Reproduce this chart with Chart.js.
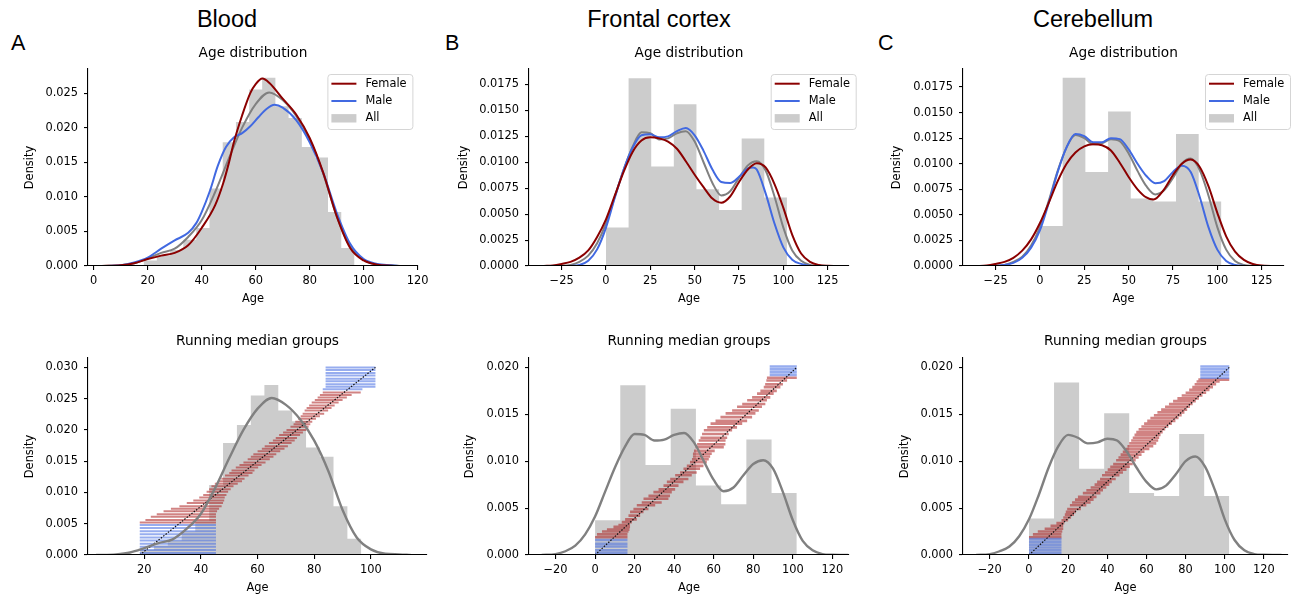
<!DOCTYPE html>
<html>
<head>
<meta charset="utf-8">
<script src="https://cdn.jsdelivr.net/npm/chart.js@4.4.1/dist/chart.umd.min.js"></script>
<style>
  body { margin: 0; background: #fff; width: 1298px; height: 598px; position: relative; overflow: hidden; }
  canvas { position: absolute; }
  .sup { position: absolute; font-family: "Liberation Sans", Arial, sans-serif; font-size: 23.5px; line-height: 1; transform: translateX(-50%); white-space: nowrap; color: #000; }
  .letter { position: absolute; font-family: "Liberation Sans", Arial, sans-serif; font-size: 21.5px; line-height: 1; color: #000; }
</style>
</head>
<body>
<div class="sup" style="left:227px;top:8px">Blood</div>
<div class="sup" style="left:659px;top:8px">Frontal cortex</div>
<div class="sup" style="left:1093px;top:8px">Cerebellum</div>
<div class="letter" style="left:11px;top:33px">A</div>
<div class="letter" style="left:445px;top:33px">B</div>
<div class="letter" style="left:878px;top:33px">C</div>

<canvas id="bloodTop" width="425" height="272" style="left:13px;top:39px"></canvas>
<canvas id="frontalTop" width="415" height="272" style="left:454px;top:39px"></canvas>
<canvas id="cerebTop" width="416" height="272" style="left:888px;top:39px"></canvas>
<canvas id="bloodBottom" width="434" height="272" style="left:13px;top:328px"></canvas>
<canvas id="frontalBottom" width="415" height="272" style="left:454px;top:328px"></canvas>
<canvas id="cerebBottom" width="420" height="272" style="left:888px;top:328px"></canvas>

<script>
// ---- tick labels ----
const bloodTopXTicks = [0, 20, 40, 60, 80, 100, 120];
const bloodBottomXTicks = [20, 40, 60, 80, 100];
const brainTopXTicks = [-25, 0, 25, 50, 75, 100, 125];
const brainBottomXTicks = [-20, 0, 20, 40, 60, 80, 100, 120];
const bloodTopYTicks = [0, 0.005, 0.010, 0.015, 0.020, 0.025];
const bloodBottomYTicks = [0, 0.005, 0.010, 0.015, 0.020, 0.025, 0.030];
const brainTopYTicks = [0, 0.0025, 0.0050, 0.0075, 0.0100, 0.0125, 0.0150, 0.0175];
const brainBottomYTicks = [0, 0.005, 0.010, 0.015, 0.020];

// ---- Blood ----
const bloodEdges = [18.5, 23.4, 28.3, 33.2, 38.0, 42.9, 47.8, 52.7, 57.6, 62.4, 67.3, 72.2, 77.1, 82.0, 86.8, 91.7, 96.6];
const bloodHeights = [0.0008, 0.0015, 0.0023, 0.0038, 0.0055, 0.0112, 0.0179, 0.0208, 0.0255, 0.0272, 0.0231, 0.0214, 0.0172, 0.0157, 0.0078, 0.0026];

const bloodFemaleX = [3, 10, 15, 20, 25, 30, 35, 40, 45, 48, 50, 52, 55, 58, 60, 62.5, 65, 70, 75, 80, 85, 90, 95, 100, 105, 110, 115];
const bloodFemaleY = [0, 0.0001, 0.0004, 0.0010, 0.0015, 0.0019, 0.0030, 0.0055, 0.0088, 0.0120, 0.0148, 0.0180, 0.0218, 0.0250, 0.0263, 0.0271, 0.0265, 0.0242, 0.0219, 0.0185, 0.0135, 0.0072, 0.0026, 0.0008, 0.0002, 0.00005, 0];
const bloodMaleX = [3, 10, 15, 20, 25, 30, 35, 38, 40, 43, 46, 49, 52, 55, 58, 61, 64, 67, 70, 75, 80, 85, 90, 95, 100, 105, 110, 113];
const bloodMaleY = [0, 0.0001, 0.0005, 0.0012, 0.0025, 0.0037, 0.0048, 0.0062, 0.0078, 0.0108, 0.0145, 0.0172, 0.0186, 0.0192, 0.0202, 0.0215, 0.0227, 0.0233, 0.0229, 0.0211, 0.0179, 0.0135, 0.0077, 0.0032, 0.0010, 0.0003, 0.0001, 0];
const bloodAllX = [3, 10, 15, 20, 25, 30, 35, 40, 45, 50, 55, 60, 65, 70, 75, 80, 85, 90, 95, 100, 105, 110, 114];
const bloodAllY = [0, 0.0001, 0.0004, 0.0011, 0.0019, 0.0025, 0.0042, 0.0066, 0.0107, 0.0155, 0.0200, 0.0234, 0.0251, 0.0240, 0.0217, 0.0183, 0.0134, 0.0072, 0.0028, 0.0009, 0.0002, 0.0001, 0];

const bloodRedY = [0.0052, 0.0056, 0.0061, 0.0065, 0.0070, 0.0074, 0.0078, 0.0083, 0.0087, 0.0092, 0.0096, 0.0101, 0.0105, 0.0110, 0.0114, 0.0118, 0.0122, 0.0127, 0.0131, 0.0135, 0.0140, 0.0144, 0.0148, 0.0153, 0.0157, 0.0161, 0.0166, 0.0170, 0.0174, 0.0179, 0.0183, 0.0187, 0.0192, 0.0196, 0.0200, 0.0205, 0.0209, 0.0213, 0.0218, 0.0222, 0.0226, 0.0231, 0.0235, 0.0239, 0.0244, 0.0248, 0.0252, 0.0256, 0.0260];
const bloodRedFrom = [18.4, 20.4, 22.3, 24.4, 26.8, 29.4, 32.4, 35, 37.3, 39.4, 40.8, 42, 42.9, 43.7, 44.9, 46.1, 47.2, 48.5, 50, 50.8, 52.3, 53.6, 55, 56.5, 57.6, 58.5, 60, 61.5, 62.5, 64, 65.4, 66.4, 67.6, 69, 70.2, 71.6, 72.7, 73.3, 74.3, 75.2, 75.9, 76.6, 77.3, 78.2, 79.1, 80.2, 81.2, 82, 83];
const bloodRedTo = [45.3, 45.3, 45.3, 45.3, 45.7, 46.4, 47.3, 47.8, 48.2, 48.4, 49, 49.6, 50.5, 51.5, 53, 54.5, 55.4, 56.8, 58.2, 58.9, 60.2, 61.4, 62.8, 64.3, 65.6, 66.6, 68, 69.5, 70.7, 72, 73.1, 73.9, 75, 76, 77.2, 78, 78.6, 79.3, 80.6, 82, 83.5, 84.9, 86.1, 87.2, 88.6, 90, 91.5, 93.2, 96.4];
const bloodBlueY = [0.0003, 0.0008, 0.0013, 0.0018, 0.0023, 0.0028, 0.0033, 0.0038, 0.0043, 0.0048, 0.0265, 0.0269, 0.0273, 0.0278, 0.0282, 0.0287, 0.0291, 0.0296, 0.0300];
const bloodBlueFrom = [18.4, 18.4, 18.4, 18.4, 18.4, 18.4, 18.4, 18.4, 18.4, 18.4, 83, 84, 84, 84, 84, 84, 84, 84, 84];
const bloodBlueTo = [45.3, 45.3, 45.3, 45.3, 45.3, 45.3, 45.3, 45.3, 45.3, 45.3, 97, 101.6, 101.6, 101.6, 101.6, 101.6, 101.6, 101.6, 101.6];
const bloodDiagX = [18.4, 101.6];
const bloodDiagY = [0, 0.0300];

// ---- Frontal cortex ----
const frontalEdges = [0, 12.75, 25.5, 38.25, 51, 63.75, 76.5, 89.25, 102];
const frontalHeights = [0.0037, 0.0181, 0.0096, 0.0156, 0.0074, 0.0054, 0.0123, 0.0066];

const frontalFemaleX = [-35, -30, -25, -20, -15, -10, -5, 0, 5, 10, 15, 20, 25, 30, 35, 40, 45, 50, 55, 60, 65, 70, 75, 80, 85, 90, 95, 100, 105, 110, 115, 120, 125, 137];
const frontalFemaleY = [0, 0.00005, 0.0002, 0.0004, 0.0008, 0.0015, 0.0028, 0.0045, 0.0068, 0.0091, 0.0110, 0.0121, 0.0124, 0.0123, 0.0120, 0.0113, 0.0101, 0.0088, 0.0076, 0.0065, 0.0061, 0.0067, 0.0081, 0.0093, 0.0099, 0.0095, 0.0079, 0.0056, 0.0030, 0.0012, 0.0004, 0.0001, 0.00003, 0];
const frontalMaleX = [-20, -15, -10, -5, 0, 5, 10, 15, 20, 25, 30, 35, 40, 45, 50, 55, 60, 65, 70, 75, 80, 83, 85, 90, 95, 100, 105, 110, 116];
const frontalMaleY = [0, 0.0001, 0.0005, 0.0016, 0.0037, 0.0066, 0.0093, 0.0114, 0.0126, 0.0127, 0.0124, 0.0125, 0.0130, 0.0133, 0.0126, 0.0111, 0.0093, 0.0081, 0.0080, 0.0086, 0.0094, 0.0095, 0.0093, 0.0070, 0.0041, 0.0018, 0.0006, 0.0002, 0];
const frontalAllX = [-27, -20, -15, -10, -5, 0, 5, 10, 15, 20, 25, 30, 35, 40, 45, 50, 55, 60, 65, 70, 75, 80, 85, 90, 95, 100, 105, 110, 115, 120, 128];
const frontalAllY = [0, 0.0001, 0.0004, 0.0010, 0.0022, 0.0041, 0.0067, 0.0093, 0.0115, 0.0129, 0.0128, 0.0122, 0.0123, 0.0128, 0.0130, 0.0120, 0.0100, 0.0080, 0.0068, 0.0072, 0.0085, 0.0097, 0.0101, 0.0092, 0.0067, 0.0037, 0.0015, 0.0005, 0.0001, 0.00002, 0];

const frontalRedY = [0.0019, 0.0022, 0.0025, 0.0027, 0.0030, 0.0032, 0.0035, 0.0038, 0.0042, 0.0046, 0.0049, 0.0053, 0.0056, 0.0060, 0.0063, 0.0067, 0.0070, 0.0074, 0.0078, 0.0081, 0.0085, 0.0088, 0.0092, 0.0095, 0.0099, 0.0102, 0.0105, 0.0108, 0.0111, 0.0115, 0.0118, 0.0122, 0.0125, 0.0129, 0.0133, 0.0136, 0.0140, 0.0143, 0.0147, 0.0151, 0.0154, 0.0158, 0.0161, 0.0165, 0.0168, 0.0172, 0.0175, 0.0179, 0.0182, 0.0186, 0.0189];
const frontalRedFrom = [0, 1, 3.5, 6, 9.3, 11.8, 13.5, 15.2, 16.9, 17.7, 19.4, 21.1, 23.6, 24.5, 27, 29.5, 32.1, 34.6, 36.3, 38, 40.5, 43, 44.7, 46.4, 48, 49, 49.5, 49.5, 50, 50.8, 51.6, 52.4, 53.3, 54.1, 55, 56.7, 58.4, 60.9, 63.4, 66, 69.3, 71.8, 74.4, 76.9, 79.4, 81.9, 83.6, 85.3, 86, 86.6, 86.9];
const frontalRedTo = [16.4, 16.4, 16.9, 17.4, 17.7, 17.7, 18.6, 21.1, 22.8, 24.5, 27, 30.4, 33.7, 37.1, 37.9, 38.8, 40.5, 42.2, 44.7, 47.2, 48.9, 51.4, 53.1, 54.8, 56.5, 57.5, 58.2, 59, 60.5, 65.1, 65.9, 66, 66.8, 67.6, 69.3, 71.8, 74.4, 76.9, 79.4, 81.1, 82.8, 84.4, 86.1, 86.9, 88.6, 90.3, 91.9, 93.7, 95, 97.1, 102];
const frontalBlueY = [0.0002, 0.0005, 0.0009, 0.0012, 0.0016, 0.0192, 0.0195, 0.0198, 0.0201];
const frontalBlueFrom = [0, 0, 0, 0, 0, 88.3, 88.3, 88.3, 88.3];
const frontalBlueTo = [16.4, 16.4, 16.4, 16.4, 16.4, 102, 102, 102, 102];
const frontalDiagX = [0, 102];
const frontalDiagY = [0, 0.0200];

// ---- Cerebellum ----
const cerebEdges = [0, 12.8, 25.6, 38.4, 51.2, 63.9, 76.7, 89.5, 102.3];
const cerebHeights = [0.0039, 0.0184, 0.0092, 0.0151, 0.0066, 0.0063, 0.0129, 0.0063];

const cerebFemaleX = [-36, -30, -25, -20, -15, -10, -5, 0, 5, 10, 15, 20, 25, 30, 35, 40, 45, 50, 55, 60, 64, 70, 75, 80, 85, 90, 95, 100, 105, 110, 115, 120, 125, 136];
const cerebFemaleY = [0, 0.00005, 0.0002, 0.0004, 0.0008, 0.0015, 0.0026, 0.0042, 0.0062, 0.0083, 0.0100, 0.0111, 0.0117, 0.0119, 0.0118, 0.0113, 0.0101, 0.0087, 0.0075, 0.0067, 0.0065, 0.0075, 0.0089, 0.0100, 0.0104, 0.0097, 0.0078, 0.0052, 0.0029, 0.0014, 0.0006, 0.0002, 0.00005, 0];
const cerebMaleX = [-26, -20, -15, -10, -5, 0, 5, 10, 15, 20, 25, 30, 35, 40, 45, 50, 55, 60, 65, 70, 75, 80, 85, 90, 95, 100, 105, 110, 116];
const cerebMaleY = [0, 0.0001, 0.0003, 0.0008, 0.0018, 0.0035, 0.0062, 0.0092, 0.0116, 0.0129, 0.0127, 0.0121, 0.0121, 0.0125, 0.0124, 0.0114, 0.0100, 0.0088, 0.0081, 0.0083, 0.0092, 0.0098, 0.0092, 0.0068, 0.0038, 0.0016, 0.0005, 0.0001, 0];
const cerebAllX = [-27, -20, -15, -10, -5, 0, 5, 10, 15, 20, 25, 30, 35, 40, 45, 50, 55, 60, 65, 70, 75, 80, 85, 90, 95, 100, 105, 110, 115, 120, 129];
const cerebAllY = [0, 0.0001, 0.0004, 0.0009, 0.0020, 0.0038, 0.0064, 0.0093, 0.0116, 0.0128, 0.0125, 0.0119, 0.0120, 0.0124, 0.0122, 0.0110, 0.0093, 0.0078, 0.0070, 0.0074, 0.0086, 0.0100, 0.0105, 0.0094, 0.0069, 0.0038, 0.0016, 0.0005, 0.0001, 0.00002, 0];

const cerebRedY = [0.0019, 0.0022, 0.0025, 0.0028, 0.0031, 0.0034, 0.0037, 0.0040, 0.0043, 0.0046, 0.0049, 0.0053, 0.0056, 0.0059, 0.0062, 0.0066, 0.0069, 0.0072, 0.0075, 0.0078, 0.0081, 0.0085, 0.0088, 0.0091, 0.0094, 0.0097, 0.0101, 0.0104, 0.0107, 0.0110, 0.0113, 0.0116, 0.0119, 0.0122, 0.0125, 0.0128, 0.0131, 0.0134, 0.0137, 0.0140, 0.0143, 0.0146, 0.0149, 0.0152, 0.0155, 0.0158, 0.0161, 0.0164, 0.0167, 0.0170, 0.0173, 0.0176, 0.0179, 0.0182, 0.0185, 0.0187];
const cerebRedFrom = [0, 2, 4.5, 8, 11, 14, 16.6, 17.5, 18.3, 18.8, 19.5, 20.9, 22, 23.5, 25, 27.5, 29.3, 31.5, 33.5, 34.8, 36.3, 37.3, 38.8, 40.2, 41.5, 43, 44.5, 45.7, 46.8, 47.9, 49.3, 50.3, 51.2, 52.2, 53, 53.9, 54.8, 56, 57.4, 58.8, 60.4, 62, 63.8, 65.6, 67.5, 69.5, 71.5, 73.6, 75.8, 78, 80, 81.8, 83.4, 84.6, 85.6, 86.5];
const cerebRedTo = [16.6, 16.6, 17, 17.5, 17.5, 18, 20, 21.5, 23, 24, 26.5, 29.3, 31.5, 33, 34.5, 36.5, 37.8, 39.5, 41, 42.3, 44.3, 46.2, 48, 49.8, 51.5, 53, 54.5, 56, 57.5, 59, 61.5, 63.5, 65, 66, 66.5, 67.2, 68.3, 69.6, 71.2, 73, 74.8, 76.4, 78, 79.4, 80.8, 82.2, 83.6, 85.2, 86.8, 88.6, 90.5, 92.2, 94, 95.6, 97.4, 102.3];
const cerebBlueY = [0.0002, 0.0005, 0.0008, 0.0011, 0.0014, 0.0017, 0.0189, 0.0192, 0.0195, 0.0198, 0.0201];
const cerebBlueFrom = [0, 0, 0, 0, 0, 0, 87.5, 87.5, 87.5, 87.5, 87.5];
const cerebBlueTo = [16.6, 16.6, 16.6, 16.6, 16.6, 16.6, 102.3, 102.3, 102.3, 102.3, 102.3];
const cerebDiagX = [0, 102.3];
const cerebDiagY = [0, 0.0200];

const FONT = "'DejaVu Sans'";
const FEMALE = '#8b0000';
const MALE = '#4169e1';
const ALL = '#808080';
const HIST = 'rgba(128,128,128,0.4)';
const ROW_RED = 'rgba(172,30,30,0.55)';
const ROW_BLUE = 'rgba(65,105,225,0.55)';

Chart.defaults.font.family = FONT;
Chart.defaults.color = '#000';

// legend box drawn inside the axes, like matplotlib's upper right legend
const insetLegend = {
  id: 'insetLegend',
  afterDraw(chart, args, opts) {
    if (!opts.items) return;
    const { ctx, chartArea } = chart;
    const left = chartArea.right + opts.shift;
    const top = chartArea.top + 5;
    ctx.save();
    ctx.fillStyle = 'rgba(255,255,255,0.8)';
    ctx.strokeStyle = '#d5d5d5';
    ctx.lineWidth = 1;
    ctx.beginPath();
    ctx.roundRect(left + 0.5, top + 0.5, 85, 55, 3);
    ctx.fill();
    ctx.stroke();
    opts.items.forEach((it, i) => {
      const y = top + 9.7 + i * 17.3;
      if (it.rect) {
        ctx.fillStyle = it.color;
        ctx.fillRect(left + 4, y - 4.2, 25, 8.4);
      } else {
        ctx.strokeStyle = it.color;
        ctx.lineWidth = 2;
        ctx.beginPath();
        ctx.moveTo(left + 4, y);
        ctx.lineTo(left + 29, y);
        ctx.stroke();
      }
      ctx.fillStyle = '#000';
      ctx.font = '11.4px ' + FONT;
      ctx.textBaseline = 'middle';
      ctx.fillText(it.label, left + 38, y);
    });
    ctx.restore();
  }
};
Chart.register(insetLegend);

function points(xs, ys) {
  return xs.map((x, i) => ({ x, y: ys[i] }));
}

function histPoints(edges, heights) {
  const pts = heights.map((h, i) => ({ x: edges[i], y: h }));
  pts.push({ x: edges[edges.length - 1], y: 0 });
  return pts;
}

function rowPoints(ys, from, to) {
  const pts = [];
  ys.forEach((y, i) => {
    pts.push({ x: from[i], y }, { x: to[i], y }, { x: to[i], y: null });
  });
  return pts;
}

function kdeSet(data, color, width) {
  return { data, borderColor: color, borderWidth: width, pointRadius: 0, fill: false, cubicInterpolationMode: 'monotone' };
}

function histSet(edges, heights) {
  return {
    data: histPoints(edges, heights), stepped: 'before', fill: 'origin',
    backgroundColor: HIST, borderColor: 'rgba(0,0,0,0)', borderWidth: 0, pointRadius: 0
  };
}

function rowSet(data, color, width) {
  return { data, borderColor: color, borderWidth: width, borderCapStyle: 'butt', pointRadius: 0, fill: false, spanGaps: false, tension: 0 };
}

function minusFmt(v) {
  return v < 0 ? '\u2212' + Math.abs(v) : String(v);
}

function makeChart(id, p) {
  const tickFont = { family: FONT, size: 11.4 };
  return new Chart(document.getElementById(id), {
    type: 'line',
    data: { datasets: p.datasets },
    options: {
      responsive: false,
      animation: false,
      events: [],
      layout: { padding: { left: 0, right: 20, top: 0, bottom: 0 } },
      plugins: {
        legend: { display: false },
        tooltip: { enabled: false },
        title: {
          display: true, text: p.title, fullSize: false, color: '#000',
          font: { family: FONT, size: 13.7, weight: 'normal', lineHeight: 1.2 },
          padding: { top: p.titleTop, bottom: 13.56 - p.titleTop }
        },
        insetLegend: p.legend ? { items: p.legend, shift: p.legendShift } : {}
      },
      scales: {
        x: {
          type: 'linear', min: p.xMin, max: p.xMax, bounds: 'data',
          afterBuildTicks: s => { s.ticks = p.xTicks.map(v => ({ value: v })); },
          afterFit: s => { s.height = 45; },
          ticks: { autoSkip: false, maxRotation: 0, color: '#000', font: tickFont, padding: 4.5, callback: minusFmt },
          grid: { drawOnChartArea: false, tickLength: 4, color: '#000', lineWidth: 1.1 },
          border: { color: '#000', width: 1.1, z: 1 },
          title: { display: true, text: 'Age', color: '#000', font: { family: FONT, size: 11.4, lineHeight: 1.2 }, padding: { top: 0, bottom: 5.6 } }
        },
        y: {
          type: 'linear', min: 0, max: p.yMax, bounds: 'data',
          afterBuildTicks: s => { s.ticks = p.yTicks.map(v => ({ value: v })); },
          afterFit: s => { s.width = 75; },
          ticks: { autoSkip: false, color: '#000', font: tickFont, padding: 6, callback: v => v.toFixed(p.yDec) },
          grid: { drawOnChartArea: false, tickLength: 4, color: '#000', lineWidth: 1.1 },
          border: { color: '#000', width: 1.1, z: 1 },
          title: { display: true, text: 'Density', color: '#000', font: { family: FONT, size: 11.4, lineHeight: 1.2 }, padding: { top: p.densityPad, bottom: 0 } }
        }
      }
    }
  });
}

const legendItems = [
  { label: 'Female', color: FEMALE },
  { label: 'Male', color: MALE },
  { label: 'All', color: 'rgba(128,128,128,0.4)', rect: true }
];

function topDatasets(fx, fy, mx, my, ax, ay, edges, heights) {
  return [
    kdeSet(points(fx, fy), FEMALE, 2),
    kdeSet(points(mx, my), MALE, 2),
    kdeSet(points(ax, ay), ALL, 2),
    histSet(edges, heights)
  ];
}

function bottomDatasets(ax, ay, dx, dy, ry, rf, rt, by, bf, bt, edges, heights, rowWidth) {
  return [
    kdeSet(points(ax, ay), ALL, 2.4),
    { data: points(dx, dy), borderColor: '#111', borderWidth: 1.2, borderDash: [1.5, 1.5], pointRadius: 0, fill: false },
    rowSet(rowPoints(by, bf, bt), ROW_BLUE, rowWidth),
    rowSet(rowPoints(ry, rf, rt), ROW_RED, rowWidth),
    histSet(edges, heights)
  ];
}

makeChart('bloodTop', {
  title: 'Age distribution', titleTop: 6.3, densityPad: 10.7,
  xMin: -2.1, xMax: 120.12, xTicks: bloodTopXTicks, yMax: 0.02848, yTicks: bloodTopYTicks, yDec: 3,
  legend: legendItems, legendShift: -90.6,
  datasets: topDatasets(bloodFemaleX, bloodFemaleY, bloodMaleX, bloodMaleY, bloodAllX, bloodAllY, bloodEdges, bloodHeights)
});

makeChart('frontalTop', {
  title: 'Age distribution', titleTop: 6.3, densityPad: 3.0,
  xMin: -43.4, xMax: 137.0, xTicks: brainTopXTicks, yMax: 0.01899, yTicks: brainTopYTicks, yDec: 4,
  legend: legendItems, legendShift: -78.3,
  datasets: topDatasets(frontalFemaleX, frontalFemaleY, frontalMaleX, frontalMaleY, frontalAllX, frontalAllY, frontalEdges, frontalHeights)
});

makeChart('cerebTop', {
  title: 'Age distribution', titleTop: 6.3, densityPad: 2.2,
  xMin: -43.4, xMax: 137.6, xTicks: brainTopXTicks, yMax: 0.01926, yTicks: brainTopYTicks, yDec: 4,
  legend: legendItems, legendShift: -79,
  datasets: topDatasets(cerebFemaleX, cerebFemaleY, cerebMaleX, cerebMaleY, cerebAllX, cerebAllY, cerebEdges, cerebHeights)
});

makeChart('bloodBottom', {
  title: 'Running median groups', titleTop: 5.7, densityPad: 10.2,
  xMin: 0.13, xMax: 119.8, xTicks: bloodBottomXTicks, yMax: 0.0315, yTicks: bloodBottomYTicks, yDec: 3,
  datasets: bottomDatasets(bloodAllX, bloodAllY, bloodDiagX, bloodDiagY, bloodRedY, bloodRedFrom, bloodRedTo, bloodBlueY, bloodBlueFrom, bloodBlueTo, bloodEdges, bloodHeights, 2.0)
});

makeChart('frontalBottom', {
  title: 'Running median groups', titleTop: 5.7, densityPad: 9.7,
  xMin: -33.4, xMax: 128.4, xTicks: brainBottomXTicks, yMax: 0.0210, yTicks: brainBottomYTicks, yDec: 3,
  datasets: bottomDatasets(frontalAllX, frontalAllY, frontalDiagX, frontalDiagY, frontalRedY, frontalRedFrom, frontalRedTo, frontalBlueY, frontalBlueFrom, frontalBlueTo, frontalEdges, frontalHeights, 2.6)
});

makeChart('cerebBottom', {
  title: 'Running median groups', titleTop: 5.7, densityPad: 10.2,
  xMin: -33.7, xMax: 132.3, xTicks: brainBottomXTicks, yMax: 0.0210, yTicks: brainBottomYTicks, yDec: 3,
  datasets: bottomDatasets(cerebAllX, cerebAllY, cerebDiagX, cerebDiagY, cerebRedY, cerebRedFrom, cerebRedTo, cerebBlueY, cerebBlueFrom, cerebBlueTo, cerebEdges, cerebHeights, 2.6)
});
</script>
</body>
</html>
